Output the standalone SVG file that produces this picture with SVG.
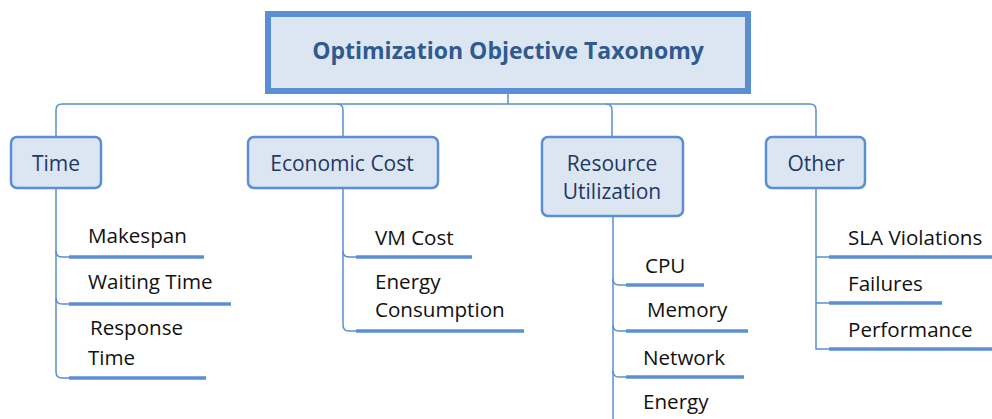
<svg xmlns="http://www.w3.org/2000/svg" width="992" height="419" viewBox="0 0 992 419">
<style>
.node{fill:#dce6f2;stroke:#5a8fd4;stroke-width:2.5}
.root{fill:#dce6f2;stroke:#5a8fd4;stroke-width:6}
.ntext{font-family:"Open Sans","Noto Sans",sans-serif;font-size:21px;fill:#1f3864;text-anchor:middle}
.rtext{font-family:"Open Sans","Noto Sans",sans-serif;font-size:23px;font-weight:bold;fill:#2f5a8f;text-anchor:middle}
.ltext{font-family:"Open Sans","Noto Sans",sans-serif;font-size:20.6px;fill:#111}
.conn{fill:none;stroke:#5a8fd4;stroke-width:1.5}
.ul{fill:none;stroke:#5a8fd4;stroke-width:3.5}
</style>
<rect width="992" height="419" fill="#fff"/>
<g id="connectors">
<path class="conn" d="M508,94 V104"/>
<path class="conn" d="M56,137 V110 Q56,104 62,104 H810 Q816,104 816,110 V137"/>
<path class="conn" d="M337,104 Q343,104 343,110 V137"/>
<path class="conn" d="M606,104 Q612,104 612,110 V137"/>
<path class="conn" d="M56,188 V372 Q56,378 62,378 H69"/>
<path class="conn" d="M56,251 Q56,257 62,257 H69"/>
<path class="conn" d="M56,298 Q56,304 62,304 H69"/>
<path class="conn" d="M343,188 V325 Q343,331 349,331 H356"/>
<path class="conn" d="M343,251 Q343,257 349,257 H356"/>
<path class="conn" d="M613,216 V419"/>
<path class="conn" d="M613,279 Q613,285 619,285 H626"/>
<path class="conn" d="M613,325 Q613,331 619,331 H626"/>
<path class="conn" d="M613,371 Q613,377 619,377 H626"/>
<path class="conn" d="M816,188 V349 H829"/>
<path class="conn" d="M816,257 H829"/>
<path class="conn" d="M816,303 H829"/>
</g>
<g id="root">
<rect class="root" x="268" y="14" width="480" height="77"/>
<text class="rtext" x="508" y="59">Optimization Objective Taxonomy</text>
</g>
<g id="time">
<rect class="node" x="11" y="137" width="90" height="51" rx="6"/>
<text class="ntext" x="56" y="171">Time</text>
</g>
<g id="economic-cost">
<rect class="node" x="248" y="137" width="190" height="51" rx="6"/>
<text class="ntext" x="342" y="171">Economic Cost</text>
</g>
<g id="resource-utilization">
<rect class="node" x="542" y="137" width="141" height="79" rx="6"/>
<text class="ntext" x="612" y="171">Resource</text>
<text class="ntext" x="612" y="199">Utilization</text>
</g>
<g id="other">
<rect class="node" x="766" y="137" width="99" height="51" rx="6"/>
<text class="ntext" x="816" y="171">Other</text>
</g>
<g id="makespan">
<text class="ltext" x="88" y="243">Makespan</text>
<path class="ul" d="M69,257 H204"/>
</g>
<g id="waiting-time">
<text class="ltext" x="88" y="289">Waiting Time</text>
<path class="ul" d="M69,304 H231"/>
</g>
<g id="response-time">
<text class="ltext" x="90" y="335">Response</text>
<text class="ltext" x="88" y="365">Time</text>
<path class="ul" d="M69,378 H206"/>
</g>
<g id="vm-cost">
<text class="ltext" x="375" y="245">VM Cost</text>
<path class="ul" d="M356,257 H472"/>
</g>
<g id="energy-consumption">
<text class="ltext" x="375" y="289">Energy</text>
<text class="ltext" x="375" y="317">Consumption</text>
<path class="ul" d="M356,331 H524"/>
</g>
<g id="cpu">
<text class="ltext" x="645" y="273">CPU</text>
<path class="ul" d="M626,285 H704"/>
</g>
<g id="memory">
<text class="ltext" x="647" y="317">Memory</text>
<path class="ul" d="M626,331 H748"/>
</g>
<g id="network">
<text class="ltext" x="643" y="365">Network</text>
<path class="ul" d="M626,377 H744"/>
</g>
<g id="energy">
<text class="ltext" x="643" y="409">Energy</text>
</g>
<g id="sla-violations">
<text class="ltext" x="848" y="245">SLA Violations</text>
<path class="ul" d="M829,257 H992"/>
</g>
<g id="failures">
<text class="ltext" x="848" y="291">Failures</text>
<path class="ul" d="M829,303 H942"/>
</g>
<g id="performance">
<text class="ltext" x="848" y="337">Performance</text>
<path class="ul" d="M829,349 H992"/>
</g>
</svg>
